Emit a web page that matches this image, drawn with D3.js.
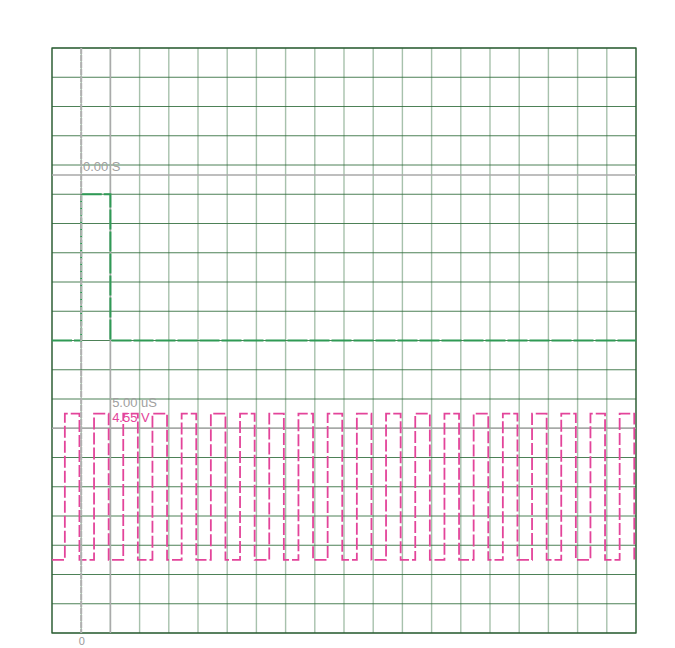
<!DOCTYPE html>
<html><head><meta charset="utf-8">
<script src="https://cdn.jsdelivr.net/npm/d3@7"></script>
<style>body{margin:0;background:#fff;font-family:Arial,"Liberation Sans",sans-serif}</style>
</head><body><svg id="c" width="675" height="648"></svg>
<script>
// time axis in microseconds, 5 uS per division
const timeDomain = [-5, 95];
const timeTickLabels = [0];
const divDomain = [10, -10]; // vertical divisions, top to bottom
// digital channel (green): step after
const digitalTimes = [-5, 0, 5, 95];
const digitalLevels = [0, 5, 0, 0];
// clock channel (pink), in divisions relative to centre
const clockTimes = [-5, -2.8, -0.3, 2.2, 4.7, 7.2, 9.7, 12.2, 14.7, 17.2, 19.7, 22.2, 24.7, 27.2, 29.7, 32.2, 34.7, 37.2, 39.7, 42.2, 44.7, 47.2, 49.7, 52.2, 54.7, 57.2, 59.7, 62.2, 64.7, 67.2, 69.7, 72.2, 74.7, 77.2, 79.7, 82.2, 84.7, 87.2, 89.7, 92.2, 94.7, 95];
const clockLevels = [-7.5, -2.5, -7.5, -2.5, -7.5, -2.5, -7.5, -2.5, -7.5, -2.5, -7.5, -2.5, -7.5, -2.5, -7.5, -2.5, -7.5, -2.5, -7.5, -2.5, -7.5, -2.5, -7.5, -2.5, -7.5, -2.5, -7.5, -2.5, -7.5, -2.5, -7.5, -2.5, -7.5, -2.5, -7.5, -2.5, -7.5, -2.5, -7.5, -2.5, -7.5, -7.5];
// cursors
const cursorTimes = [0, 5];
const cursorLevels = [5.66, -3];
const labels = [
  {t: 0.3, d: 5.8, text: "0.00 S", color: "#a0a0a0"},
  {t: 5.3, d: -2.27, text: "5.00 uS", color: "#a0a0a0"},
  {t: 5.3, d: -2.77, text: "4.55 V", color: "#e3449a"}
];

const svg = d3.select("#c");
const x = d3.scaleLinear().domain(timeDomain).range([52, 636]);
const y = d3.scaleLinear().domain(divDomain).range([48, 633]);

const g = svg.append("g");
// vertical grid
g.selectAll(".vg").data(d3.range(-5, 95.01, 5)).join("line")
  .attr("x1", d => x(d)).attr("x2", d => x(d)).attr("y1", y(10)).attr("y2", y(-10))
  .attr("stroke", "#2e6b3a").attr("stroke-opacity", 0.42).attr("stroke-width", 1.4);
// horizontal grid
g.selectAll(".hg").data(d3.range(-10, 10.01, 1)).join("line")
  .attr("x1", x(-5)).attr("x2", x(95)).attr("y1", d => y(d)).attr("y2", d => y(d))
  .attr("stroke", "#2e6b3a").attr("stroke-opacity", 0.85).attr("stroke-width", 1);
g.append("rect").attr("x", x(-5)).attr("y", y(10)).attr("width", x(95) - x(-5)).attr("height", y(-10) - y(10))
  .attr("fill", "none").attr("stroke", "#2e5e36").attr("stroke-width", 1.3);

// cursors (solid one and level lines beneath the signals)
g.append("line").attr("x1", x(cursorTimes[1])).attr("x2", x(cursorTimes[1])).attr("y1", y(10)).attr("y2", y(-10))
  .attr("stroke", "#aaa").attr("stroke-width", 1.5);
cursorLevels.forEach(l => g.append("line").attr("x1", x(-5)).attr("x2", x(95)).attr("y1", y(l)).attr("y2", y(l))
  .attr("stroke", "#a8a8a8").attr("stroke-width", 1.5));

// signals
const line = d3.line().curve(d3.curveStepAfter).x(d => x(d[0])).y(d => y(d[1]));
g.append("path").datum(digitalTimes.map((t, i) => [t, digitalLevels[i]]))
  .attr("d", line).attr("fill", "none").attr("stroke", "#2f9a55").attr("stroke-width", 2)
  .attr("stroke-dasharray", "20,2");
g.append("path").datum(clockTimes.map((t, i) => [t, clockLevels[i]]))
  .attr("d", line).attr("fill", "none").attr("stroke", "#e3449a").attr("stroke-width", 1.8)
  .attr("stroke-dasharray", "12,3");

// dashed zero cursor on top
g.append("line").attr("x1", x(cursorTimes[0])).attr("x2", x(cursorTimes[0])).attr("y1", y(10)).attr("y2", y(-10))
  .attr("stroke", "#b0b0b0").attr("stroke-width", 2).attr("stroke-dasharray", "6,1");

// labels
g.selectAll(".lb").data(labels).join("text")
  .attr("x", d => x(d.t)).attr("y", d => y(d.d)).attr("font-size", 13).attr("fill", d => d.color)
  .text(d => d.text);

// bottom axis
const ax = svg.append("g").attr("transform", `translate(0,${y(-10)})`)
  .call(d3.axisBottom(x).tickValues(timeTickLabels).tickSize(0).tickPadding(4));
ax.select(".domain").remove();
ax.selectAll("text").attr("fill", "#999").attr("font-size", 11).attr("font-family", "Arial,'Liberation Sans',sans-serif");
</script></body></html>
